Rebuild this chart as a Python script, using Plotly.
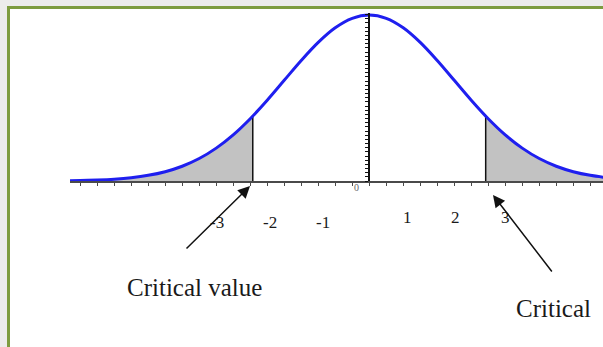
"""Normal curve with two shaded tails and critical value arrows"""

import plotly.graph_objects as go

W, H = 603, 347

COLORS = {
    'curve': '#1f1fef',
    'tail': '#c2c2c2',
    'axis': '#4a4a4a',
    'line': '#111111',
    'text': '#1a1a1a',
    'frame': '#7d9c40',
    'band': '#ececec',
}

# density (z in standard units)
z_points = [-3.6, -3.4, -3.2, -3.0, -2.8, -2.6, -2.4, -2.2, -2.0, -1.8, -1.6, -1.4, -1.2,
            -1.0, -0.8, -0.6, -0.4, -0.2, 0.0, 0.2, 0.4, 0.6, 0.8, 1.0, 1.2, 1.4, 1.6,
            1.8, 2.0, 2.2, 2.4, 2.6, 2.8]
density = [0.0006, 0.0012, 0.0024, 0.0044, 0.0079, 0.0136, 0.0224, 0.0355, 0.0540, 0.0790,
           0.1109, 0.1497, 0.1942, 0.2420, 0.2897, 0.3332, 0.3683, 0.3910, 0.3989, 0.3910,
           0.3683, 0.3332, 0.2897, 0.2420, 0.1942, 0.1497, 0.1109, 0.0790, 0.0540, 0.0355,
           0.0224, 0.0136, 0.0079]

critical_z = [-1.37, 1.37]
critical_height = 0.156

left_tail_z = [-3.6, -3.4, -3.2, -3.0, -2.8, -2.6, -2.4, -2.2, -2.0, -1.8, -1.6, -1.37]
left_tail_y = [0.0006, 0.0012, 0.0024, 0.0044, 0.0079, 0.0136, 0.0224, 0.0355, 0.0540, 0.0790,
               0.1109, 0.156]
right_tail_z = [1.37, 1.6, 1.8, 2.0, 2.2, 2.4, 2.6, 2.8]
right_tail_y = [0.156, 0.1109, 0.0790, 0.0540, 0.0355, 0.0224, 0.0136, 0.0079]

tick_labels = ['-3', '-2', '-1', '1', '2', '3']
origin_label = '0'
caption_left = 'Critical value'
caption_right = 'Critical'


def px(x, y):
    """pixel position -> paper fraction"""
    return x / W, 1 - y / H


fig = go.Figure()

for tz, ty in [(left_tail_z, left_tail_y), (right_tail_z, right_tail_y)]:
    fig.add_trace(go.Scatter(
        x=tz, y=ty, mode='lines', fill='tozeroy', fillcolor=COLORS['tail'],
        line=dict(color=COLORS['tail'], width=0, shape='spline'), hoverinfo='skip'
    ))

for cz in critical_z:
    fig.add_trace(go.Scatter(
        x=[cz, cz], y=[0, critical_height], mode='lines',
        line=dict(color=COLORS['line'], width=1.5), hoverinfo='skip'
    ))

fig.add_trace(go.Scatter(
    x=z_points, y=density, mode='lines',
    line=dict(color=COLORS['curve'], width=3, shape='spline'),
    hovertemplate='z=%{x}<br>%{y:.3f}<extra></extra>'
))

# tick numbers sit a little off the real ticks in the original
label_pos = [(217, 222), (270, 222), (323, 222), (407, 217), (455, 217), (505, 217)]
annotations = []
for lab, (lx, ly) in zip(tick_labels, label_pos):
    ax_, ay_ = px(lx, ly)
    annotations.append(dict(
        x=ax_, y=ay_, xref='paper', yref='paper', text=lab, showarrow=False,
        font=dict(family='Liberation Serif', size=17, color=COLORS['text']),
        xanchor='center', yanchor='middle'
    ))

ox, oy = px(356, 188)
annotations.append(dict(
    x=ox, y=oy, xref='paper', yref='paper', text=origin_label, showarrow=False,
    font=dict(family='Liberation Serif', size=10, color='#666666'),
    xanchor='center', yanchor='middle'
))

cx, cy = px(194, 287)
annotations.append(dict(
    x=cx, y=cy, xref='paper', yref='paper', text=caption_left, showarrow=False,
    font=dict(family='Liberation Serif', size=25, color=COLORS['text']),
    xanchor='center', yanchor='middle'
))
cx, cy = px(514, 308)
annotations.append(dict(
    x=cx, y=cy, xref='paper', yref='paper', text=caption_right, showarrow=False,
    font=dict(family='Liberation Serif', size=25, color=COLORS['text']),
    xanchor='left', yanchor='middle'
))

for tip, tail in [((250, 186), (185, 250)), ((493, 195), (553, 273))]:
    tx, ty = px(*tip)
    annotations.append(dict(
        x=tx, y=ty, xref='paper', yref='paper', text='', showarrow=True,
        ax=tail[0] - tip[0], ay=tail[1] - tip[1],
        arrowhead=2, arrowsize=1.6, arrowwidth=1.5, arrowcolor=COLORS['line']
    ))

# page frame: grey band + green border on top and left
shapes = [
    dict(type='rect', xref='paper', yref='paper', x0=0, x1=1, y0=1 - 6 / H, y1=1,
         fillcolor=COLORS['band'], line_width=0, layer='below'),
    dict(type='rect', xref='paper', yref='paper', x0=0, x1=7 / W, y0=0, y1=1,
         fillcolor=COLORS['band'], line_width=0, layer='below'),
    dict(type='line', xref='paper', yref='paper', x0=7 / W, x1=1, y0=1 - 7.5 / H, y1=1 - 7.5 / H,
         line=dict(color=COLORS['frame'], width=3)),
    dict(type='line', xref='paper', yref='paper', x0=8.5 / W, x1=8.5 / W, y0=0, y1=1 - 6 / H,
         line=dict(color=COLORS['frame'], width=3)),
]

fig.update_layout(
    width=W, height=H,
    margin=dict(l=0, r=0, t=0, b=0),
    paper_bgcolor='white',
    plot_bgcolor='rgba(0,0,0,0)',
    showlegend=False,
    xaxis=dict(
        domain=[70 / W, 1], range=[-3.52, 2.75], anchor='y',
        showline=True, linecolor=COLORS['axis'], linewidth=2,
        ticks='outside', ticklen=3, tickwidth=1, tickcolor=COLORS['axis'],
        tick0=0, dtick=0.2, showticklabels=False, showgrid=False, zeroline=False
    ),
    yaxis=dict(
        domain=[(H - 181) / H, (H - 12.5) / H], range=[0, 0.405],
        anchor='free', position=369 / W,
        showline=True, linecolor=COLORS['line'], linewidth=1.5,
        ticks='outside', ticklen=3, tickwidth=1, tickcolor=COLORS['line'],
        tick0=0, dtick=0.01, showticklabels=False, showgrid=False, zeroline=False
    ),
    annotations=annotations,
    shapes=shapes,
)

# drop the default page margin so the figure starts at the window corner
fig.write_html("out.html", config={'displayModeBar': False},
               post_script="document.body.style.margin='0';")
